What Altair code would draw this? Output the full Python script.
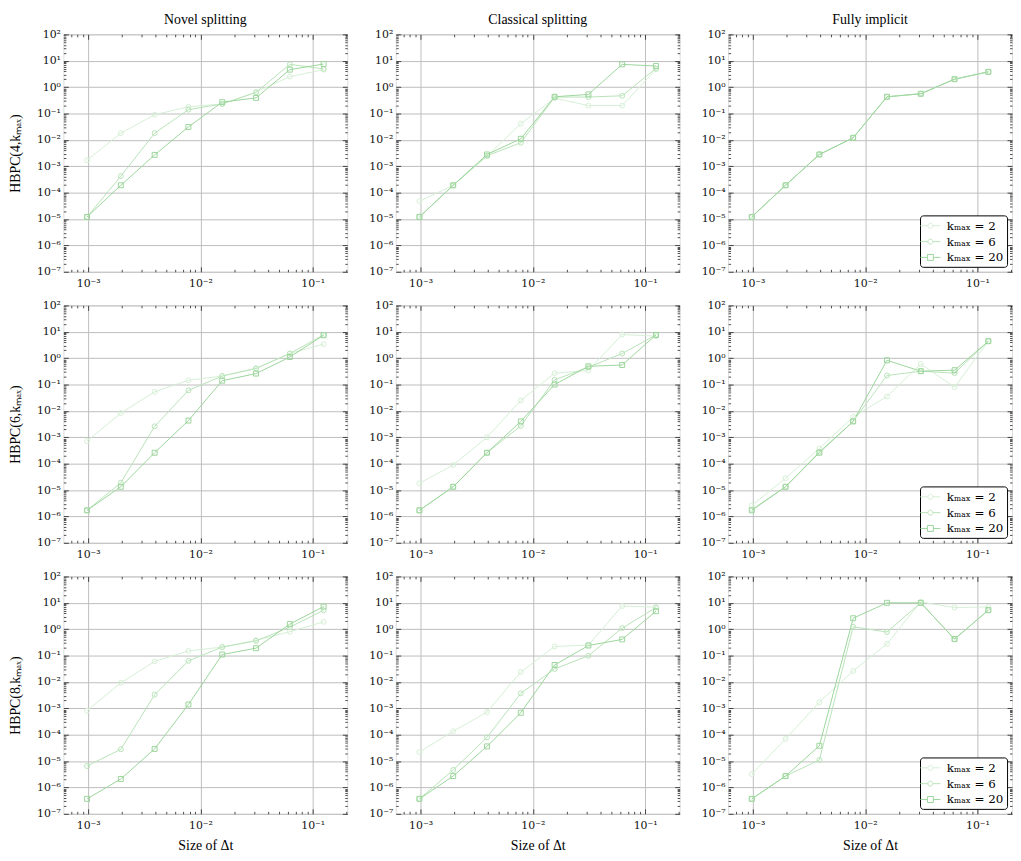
import math
import altair as alt
import pandas as pd

# ---------------- data ----------------
DT = [0.0009765625, 0.001953125, 0.00390625, 0.0078125, 0.015625, 0.03125, 0.0625, 0.125]
K_LABELS = ["2", "6", "20"]
METHODS = ["Novel splitting", "Classical splitting", "Fully implicit"]
ORDERS = [4, 6, 8]

novel4_k2 = [1.7e-3, 1.8e-2, 9.0e-2, 1.8e-1, 2.3e-1, 6.5e-1, 2.5, 4.6]
novel4_k6 = [1.2e-5, 4.2e-4, 1.8e-2, 1.4e-1, 2.3e-1, 6.3e-1, 7.3, 4.9]
novel4_k20 = [1.2e-5, 1.9e-4, 2.7e-3, 3.1e-2, 2.7e-1, 3.9e-1, 4.6, 7.5]

classic4_k2 = [4.7e-5, 1.9e-4, 2.4e-3, 4.1e-2, 3.8e-1, 2.0e-1, 2.0e-1, 4.7]
classic4_k6 = [1.2e-5, 1.9e-4, 2.5e-3, 7.8e-3, 4.2e-1, 4.2e-1, 4.7e-1, 5.1]
classic4_k20 = [1.2e-5, 1.9e-4, 2.8e-3, 1.1e-2, 4.3e-1, 5.3e-1, 7.3, 6.3]

implicit4_k2 = [1.2e-5, 1.9e-4, 2.8e-3, 1.2e-2, 4.3e-1, 5.6e-1, 2.0, 3.8]
implicit4_k6 = [1.2e-5, 1.9e-4, 2.8e-3, 1.2e-2, 4.3e-1, 5.6e-1, 2.0, 3.8]
implicit4_k20 = [1.2e-5, 1.9e-4, 2.8e-3, 1.2e-2, 4.3e-1, 5.6e-1, 2.0, 3.8]

novel6_k2 = [7.2e-4, 8.3e-3, 5.3e-2, 1.45e-1, 2.1e-1, 4.2e-1, 1.5, 3.4]
novel6_k6 = [1.7e-6, 1.9e-5, 2.6e-3, 6.0e-2, 2.1e-1, 4.0e-1, 1.5, 7.6]
novel6_k20 = [1.7e-6, 1.33e-5, 2.6e-4, 4.3e-3, 1.4e-1, 2.6e-1, 1.1, 7.4]

classic6_k2 = [1.8e-5, 8.9e-5, 1.0e-3, 2.5e-2, 2.7e-1, 3.4e-1, 7.9, 6.8]
classic6_k6 = [1.7e-6, 1.33e-5, 2.6e-4, 2.7e-3, 1.5e-1, 4.5e-1, 1.5, 7.6]
classic6_k20 = [1.7e-6, 1.33e-5, 2.6e-4, 4.0e-3, 1.0e-1, 4.9e-1, 5.5e-1, 7.6]

implicit6_k2 = [2.6e-6, 2.8e-5, 3.8e-4, 5.9e-3, 3.5e-2, 6.0e-1, 8.0e-2, 4.4]
implicit6_k6 = [1.8e-6, 1.33e-5, 2.8e-4, 4.0e-3, 2.2e-1, 3.2e-1, 2.7e-1, 4.4]
implicit6_k20 = [1.7e-6, 1.33e-5, 2.6e-4, 4.0e-3, 8.3e-1, 3.2e-1, 3.5e-1, 4.4]

novel8_k2 = [8.1e-4, 9.3e-3, 6.0e-2, 1.5e-1, 2.1e-1, 3.8e-1, 8.0e-1, 1.9]
novel8_k6 = [6.5e-6, 2.8e-5, 3.3e-3, 6.3e-2, 2.1e-1, 3.6e-1, 1.2, 5.2]
novel8_k20 = [3.7e-7, 2.1e-6, 2.9e-5, 1.4e-3, 1.1e-1, 1.9e-1, 1.56, 7.2]

classic8_k2 = [2.2e-5, 1.35e-4, 7.2e-4, 2.4e-2, 2.2e-1, 2.5e-1, 7.6, 6.8]
classic8_k6 = [3.7e-7, 4.6e-6, 7.9e-5, 3.7e-3, 3.1e-2, 9.8e-2, 1.1, 6.6]
classic8_k20 = [3.7e-7, 2.7e-6, 3.6e-5, 6.8e-4, 4.4e-2, 2.4e-1, 4.1e-1, 4.8]

implicit8_k2 = [3.2e-6, 6.9e-5, 1.7e-3, 2.6e-2, 2.8e-1, 10.8, 6.6, 7.0]
implicit8_k6 = [3.7e-7, 2.7e-6, 1.1e-5, 1.24, 7.8e-1, 10.0, 4.2e-1, 5.2]
implicit8_k20 = [3.7e-7, 2.7e-6, 3.8e-5, 2.6, 10.0, 10.0, 4.2e-1, 5.3]

SERIES = {
    (4, "Novel splitting"): [novel4_k2, novel4_k6, novel4_k20],
    (4, "Classical splitting"): [classic4_k2, classic4_k6, classic4_k20],
    (4, "Fully implicit"): [implicit4_k2, implicit4_k6, implicit4_k20],
    (6, "Novel splitting"): [novel6_k2, novel6_k6, novel6_k20],
    (6, "Classical splitting"): [classic6_k2, classic6_k6, classic6_k20],
    (6, "Fully implicit"): [implicit6_k2, implicit6_k6, implicit6_k20],
    (8, "Novel splitting"): [novel8_k2, novel8_k6, novel8_k20],
    (8, "Classical splitting"): [classic8_k2, classic8_k6, classic8_k20],
    (8, "Fully implicit"): [implicit8_k2, implicit8_k6, implicit8_k20],
}

# ---------------- styling ----------------
FONT = "Liberation Serif"
TICK_FONT = "DejaVu Serif"
COLORS = ["#d6efd6", "#b8e3b8", "#9cd69c"]
W, H = 287, 240
Y_MAJOR = [1e-7, 1e-6, 1e-5, 1e-4, 1e-3, 1e-2, 1e-1, 1e0, 1e1, 1e2]
X_MAJOR = [1e-3, 1e-2, 1e-1]

lo, hi = math.log10(DT[0]), math.log10(DT[-1])
pad = 0.1 * (hi - lo)
X_DOMAIN = [10 ** (lo - pad), 10 ** (hi + pad)]
Y_DOMAIN = [1e-7, 1e2]

X_MINOR = [m * 10.0 ** e for e in range(-4, 0) for m in range(2, 10)
           if X_DOMAIN[0] <= m * 10.0 ** e <= X_DOMAIN[1]]
Y_MINOR = [m * 10.0 ** e for e in range(-7, 2) for m in range(2, 10)]

SUP = "['⁰','¹','²','³','⁴','⁵','⁶','⁷','⁸','⁹']"
LABEL_EXPR = ("'10' + (datum.value < 1 ? '⁻' : '') + " + SUP +
              "[abs(round(log(datum.value) / LN10))]")

# legend glyphs: a short line with the marker in the middle (unit = 7px at size 196)
LEG_CIRCLE = "M-1.45,0H-0.36M0.36,0H1.45M-0.36,0A0.36,0.36 0 1,1 0.36,0A0.36,0.36 0 1,1 -0.36,0"
LEG_SQUARE = "M-1.45,0H-0.43M0.43,0H1.45M-0.43,-0.43H0.43V0.43H-0.43Z"

rows = []
for (order, method), series in SERIES.items():
    for k, vals in zip(K_LABELS, series):
        for dt, v in zip(DT, vals):
            rows.append({"order": order, "method": method, "k": k, "dt": dt, "v": v})
df = pd.DataFrame(rows)

xscale = alt.Scale(type="log", domain=X_DOMAIN, nice=False)
yscale = alt.Scale(type="log", domain=Y_DOMAIN, nice=False)
cscale = alt.Scale(domain=K_LABELS, range=COLORS)

TITLE_KW = dict(titleFont=FONT, titleFontSize=14, titleFontWeight="normal", titleColor="black")
LABEL_KW = dict(labelFont=TICK_FONT, labelFontSize=11, labelColor="#111111",
                labelFlush=False, labelOverlap=False)


def tick_layer(base, xvals, yvals, xorient, yorient, size):
    common = dict(labels=False, grid=False, domain=False, ticks=True, tickSize=size,
                  tickColor="#222222", tickWidth=0.8, title=None)
    return base.mark_point(opacity=0).encode(
        x=alt.X("dt:Q", scale=xscale,
                axis=alt.Axis(orient=xorient, offset=-H, values=xvals, **common)),
        y=alt.Y("v:Q", scale=yscale,
                axis=alt.Axis(orient=yorient, offset=-W, values=yvals, **common)),
    )


def panel(order, method, row, col):
    base = alt.Chart(df[(df.order == order) & (df.method == method)])
    xtitle = "Size of Δt" if row == 2 else None
    ytitle = f"HBPC({order},kₘₐₓ)" if col == 0 else None
    xaxis = alt.Axis(values=X_MAJOR, labelExpr=LABEL_EXPR, grid=True, ticks=False,
                     domain=False, title=xtitle, labelPadding=6, titlePadding=8,
                     gridColor="#bdbdbd", gridWidth=1, **TITLE_KW, **LABEL_KW)
    yaxis = alt.Axis(values=Y_MAJOR, labelExpr=LABEL_EXPR, grid=True, ticks=False,
                     domain=False, title=ytitle, labelPadding=3, titlePadding=14,
                     gridColor="#bdbdbd", gridWidth=1, **TITLE_KW, **LABEL_KW)
    lines = base.mark_line(strokeWidth=1).encode(
        x=alt.X("dt:Q", scale=xscale, axis=xaxis),
        y=alt.Y("v:Q", scale=yscale, axis=yaxis),
        color=alt.Color("k:N", scale=cscale, legend=None),
        order=alt.Order("dt:Q"),
    )
    points = base.mark_point(filled=False, strokeWidth=1, opacity=1).encode(
        x=alt.X("dt:Q", scale=xscale, axis=None),
        y=alt.Y("v:Q", scale=yscale, axis=None),
        color=alt.Color("k:N", scale=cscale, legend=None),
        shape=alt.Shape("k:N", scale=alt.Scale(domain=K_LABELS, range=["circle", "circle", "square"]),
                        legend=None),
        size=alt.Size("k:N", scale=alt.Scale(domain=K_LABELS, range=[25, 25, 36]), legend=None),
    )
    layers = [
        lines,
        points,
        tick_layer(base, X_MAJOR, Y_MAJOR, "bottom", "left", 5),
        tick_layer(base, X_MAJOR, Y_MAJOR, "top", "right", 5),
        tick_layer(base, X_MINOR, Y_MINOR, "bottom", "left", 2.5),
        tick_layer(base, X_MINOR, Y_MINOR, "top", "right", 2.5),
    ]
    if col == 2:
        leg_kw = dict(title=None, orient="bottom-right", offset=5, padding=3,
                      strokeColor="black", fillColor="white", cornerRadius=3,
                      labelFont="DejaVu Serif", labelFontSize=12, symbolSize=196,
                      symbolStrokeWidth=1, rowPadding=2, symbolOpacity=1,
                      labelOffset=9, labelColor="black",
                      labelExpr="'kₘₐₓ = ' + datum.label")
        legend_layer = base.transform_filter("datum.k == 'none'").mark_point(
            filled=False, strokeWidth=1).encode(
            x=alt.X("dt:Q", scale=xscale, axis=None),
            y=alt.Y("v:Q", scale=yscale, axis=None),
            color=alt.Color("k:N", scale=cscale, legend=alt.Legend(**leg_kw)),
            shape=alt.Shape("k:N", scale=alt.Scale(domain=K_LABELS,
                                                   range=[LEG_CIRCLE, LEG_CIRCLE, LEG_SQUARE]),
                            legend=alt.Legend(**leg_kw)),
        )
        layers.append(legend_layer)
    ch = alt.layer(*layers).resolve_axis(x="independent", y="independent").resolve_scale(
        color="independent", shape="independent", size="independent")
    props = dict(width=W, height=H)
    if row == 0:
        props["title"] = alt.TitleParams(method, font=FONT, fontSize=14, fontWeight="normal",
                                         color="black", offset=1)
    return ch.properties(**props)


grid_rows = []
for r, order in enumerate(ORDERS):
    grid_rows.append(alt.hconcat(*[panel(order, m, r, c) for c, m in enumerate(METHODS)],
                                 spacing=20))

chart = alt.vconcat(*grid_rows, spacing=9).properties(padding=0).configure_view(
    stroke="#111111", strokeWidth=1
).configure(background="white")

chart.save("out.html", embed_options={"renderer": "svg", "actions": False})
